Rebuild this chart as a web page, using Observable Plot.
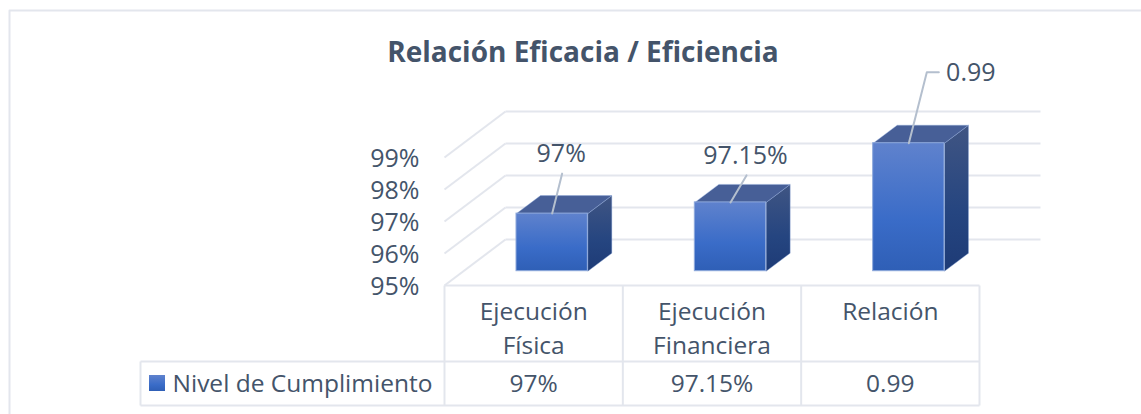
<!DOCTYPE html>
<html><head><meta charset="utf-8">
<style>html,body{margin:0;padding:0;background:#fff}svg{display:block}</style>
<script src="https://cdn.jsdelivr.net/npm/d3@7"></script>
<script src="https://cdn.jsdelivr.net/npm/@observablehq/plot@0.6"></script>
</head><body><div id="chart"></div>
<script>
const categories = ["Ejecución Física", "Ejecución Financiera", "Relación"];
const values = [96.8, 97.15, 99];
const valueLabels = ["97%", "97.15%", "0.99"];
const yTicks = [95, 96, 97, 98, 99];
const seriesName = "Nivel de Cumplimiento";
const chartTitle = "Relación Eficacia / Eficiencia";

const INK = "#44546a", GRID = "#e3e6ed", EDGE = "#8ea9db", FONT = "'Open Sans', sans-serif";
const X0 = 444, XU = 178.33, Y95 = 285, YU = 32;
const ux = px => (px - X0) / XU, uy = px => 95 - (px - Y95) / YU;
// oblique projection: depth expressed in pixels of shift
const P = (i, v, sx = 0, sy = 0) => ({x: i + sx / XU, y: v + sy / YU});
const BACK = [61, 46], BAR = [18.5, 14.3], BARD = [24, 18], HALF = 0.2;

const rows = categories.map((c, i) => ({c, i, v: values[i], label: valueLabels[i]}));
const poly = (id, pts) => pts.map(p => ({id, ...p}));
const topFaces = [], sideFaces = [];
rows.forEach(r => {
  const l = r.i + .5 - HALF, h = r.i + .5 + HALF, bx = BAR[0], by = BAR[1], dx = bx + BARD[0], dy = by + BARD[1];
  topFaces.push(...poly(r.i, [P(l, r.v, bx, by), P(h, r.v, bx, by), P(h, r.v, dx, dy), P(l, r.v, dx, dy), P(l, r.v, bx, by)]));
  sideFaces.push(...poly(r.i, [P(h, r.v, bx, by), P(h, r.v, dx, dy), P(h, 95, dx, dy), P(h, 95, bx, by), P(h, r.v, bx, by)]));
});
const leaderOffsets = [[[0,0],[10,40]], [[0,0],[16,27]], [[0,0],[18,71],[30,71]]];
const labelOffsets = [[9,60], [15,46], [62,70]];
const leaders = rows.flatMap(r => leaderOffsets[r.i].map(o => ({id: r.i, ...P(r.i + .5, r.v, BAR[0] + o[0], BAR[1] + o[1])})));
const labels = rows.map(r => ({label: r.label, ...P(r.i + .5, r.v, BAR[0] + labelOffsets[r.i][0], BAR[1] + labelOffsets[r.i][1])}));

const rowTop = uy(285), rowMid = uy(361), rowBot = uy(405), xLeft = ux(140);
const catLines = rows.flatMap(r => {
  const parts = r.c === "Relación" ? [r.c] : r.c.split(" ");
  return parts.map((t, k) => ({t, x: r.i + .5, y: uy(311.5 + k * 34)}));
});

const defs = () => {
  const ns = "http://www.w3.org/2000/svg";
  const d = document.createElementNS(ns, "defs");
  d.innerHTML = `
  <linearGradient id="front" x1="0" y1="0" x2="0" y2="1"><stop offset="0" stop-color="#5f82cd"/><stop offset=".6" stop-color="#3a6cc8"/><stop offset="1" stop-color="#2f5fb6"/></linearGradient>
  <linearGradient id="side" x1="0" y1="0" x2="0" y2="1"><stop offset="0" stop-color="#405583"/><stop offset=".6" stop-color="#254580"/><stop offset="1" stop-color="#1e3b76"/></linearGradient>`;
  return d;
};

const txt = {fontFamily: FONT, fill: INK};
const plot = Plot.plot({
  width: 1141, height: 414, margin: 0,
  style: {background: "#fff", overflow: "visible"},
  x: {type: "linear", domain: [0, 3], range: [X0, X0 + 3 * XU], axis: null},
  y: {type: "linear", domain: [95, 99], range: [Y95, Y95 - 4 * YU], axis: null},
  marks: [
    defs,
    // outer frame
    Plot.line([P(ux(9),uy(414)),P(ux(9),uy(10)),P(ux(1141),uy(10))], {x:"x",y:"y",stroke:GRID,strokeWidth:2}),
    // back wall gridlines and left wall diagonals
    Plot.link(yTicks, {x1: () => P(0,0,BACK[0]).x, x2: () => P(3,0,BACK[0]).x, y1: d => P(0,d,0,BACK[1]).y, y2: d => P(0,d,0,BACK[1]).y, stroke: GRID, strokeWidth: 2}),
    Plot.link(yTicks, {x1: () => 0, x2: () => P(0,0,BACK[0]).x, y1: d => d, y2: d => P(0,d,0,BACK[1]).y, stroke: GRID, strokeWidth: 2}),
    // bars
    Plot.line(sideFaces, {x:"x",y:"y",z:"id",fill:"url(#side)",stroke:EDGE,strokeWidth:1,strokeOpacity:.4,curve:"linear"}),
    Plot.line(topFaces, {x:"x",y:"y",z:"id",fill:"#475f97",stroke:EDGE,strokeWidth:1,strokeOpacity:.4,curve:"linear"}),
    Plot.rect(rows, {x1: r => P(r.i+.5-HALF,0,BAR[0]).x, x2: r => P(r.i+.5+HALF,0,BAR[0]).x, y1: () => P(0,95,0,BAR[1]).y, y2: r => P(0,r.v,0,BAR[1]).y, fill:"url(#front)", stroke:EDGE, strokeWidth:1}),
    // leaders and data labels
    Plot.line(leaders, {x:"x",y:"y",z:"id",stroke:"#b4bfce",strokeWidth:2}),
    Plot.text(labels, {x:"x",y:"y",text:"label",fontSize:25,...txt}),
    // y labels
    Plot.text(yTicks, {x: () => ux(419), y: d => d, dy: 1.5, text: d => d + "%", textAnchor:"end", fontSize:25, ...txt}),
    // data table grid
    Plot.link([rowTop], {x1: () => 0, x2: () => 3, y1: d => d, y2: d => d, stroke:GRID, strokeWidth:2}),
    Plot.link([rowMid, rowBot], {x1: () => xLeft, x2: () => 3, y1: d => d, y2: d => d, stroke:GRID, strokeWidth:2}),
    Plot.link([0,1,2,3], {x1: d => d, x2: d => d, y1: () => rowTop, y2: () => rowBot, stroke:GRID, strokeWidth:2}),
    Plot.link([xLeft], {x1: d => d, x2: d => d, y1: () => rowMid, y2: () => rowBot, stroke:GRID, strokeWidth:2}),
    Plot.text(catLines, {x:"x",y:"y",text:"t",fontSize:24.5,...txt}),
    Plot.text(rows, {x: r => r.i + .5, y: () => uy(384), text:"label", fontSize:24.5, ...txt}),
    Plot.rect([seriesName], {x1: () => ux(149), x2: () => ux(165), y1: () => uy(375), y2: () => uy(391), fill:"url(#front)"}),
    Plot.text([seriesName], {x: () => ux(172), y: () => uy(384), text: d => d, textAnchor:"start", fontSize:24.5, ...txt}),
    // title
    Plot.text([chartTitle], {x: () => ux(582.5), y: () => uy(53), text: d => d, fontSize:28, fontWeight:700, ...txt})
  ]
});
document.getElementById("chart").append(plot);
</script></body></html>
